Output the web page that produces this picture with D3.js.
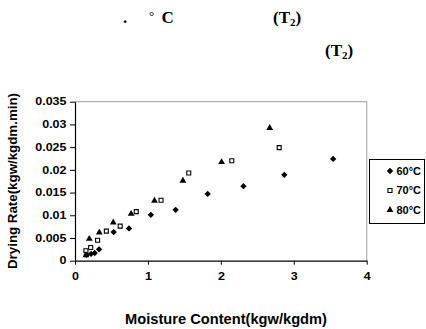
<!DOCTYPE html>
<html>
<head>
<meta charset="utf-8">
<script src="https://cdn.jsdelivr.net/npm/d3@7"></script>
<style>
  body { margin: 0; background: #fff; }
  svg { display: block; }
</style>
</head>
<body>
<div id="chart"></div>
<script>
// data
const xTicks = [0, 1, 2, 3, 4];
const yTicks = [0, 0.005, 0.01, 0.015, 0.02, 0.025, 0.03, 0.035];
const yTickLabels = ['0', '0.005', '0.01', '0.015', '0.02', '0.025', '0.03', '0.035'];
const seriesNames = ['60°C', '70°C', '80°C'];

const mc60 = [0.16, 0.22, 0.27, 0.33, 0.53, 0.74, 1.04, 1.38, 1.82, 2.31, 2.87, 3.54];
const dr60 = [0.0013, 0.0015, 0.0017, 0.0025, 0.0063, 0.0071, 0.0101, 0.0112, 0.0147, 0.0164, 0.0189, 0.0224];

const mc70 = [0.15, 0.215, 0.31, 0.43, 0.62, 0.84, 1.18, 1.56, 2.15, 2.80];
const dr70 = [0.0022, 0.0029, 0.0045, 0.0065, 0.0076, 0.0108, 0.0133, 0.0193, 0.0220, 0.0249];

const mc80 = [0.15, 0.196, 0.333, 0.525, 0.77, 1.09, 1.48, 2.01, 2.67];
const dr80 = [0.0012, 0.0048, 0.0062, 0.0084, 0.0103, 0.0132, 0.0176, 0.0217, 0.0292];

let width = 426, height = 329;
let svg = d3.select('#chart').append('svg')
  .attr('width', width)
  .attr('height', height)
  .style('background', '#fff');

// plot area
let plotLeft = 75, plotRight = 366.7, plotTop = 101.7, plotBottom = 260.7;
let x = d3.scaleLinear().domain([0, 4]).range([plotLeft, plotRight]);
let y = d3.scaleLinear().domain([0, 0.035]).range([plotBottom, plotTop]);

// title lines (the original non-latin words did not render, only these bits)
let serif = '"Liberation Serif", "Times New Roman", serif';
let t1 = svg.append('g').attr('font-family', serif).attr('font-weight', 'bold').attr('font-size', 17).attr('fill', '#000');
t1.append('text').attr('x', 123).attr('y', 23).text('.');
t1.append('text').attr('x', 149).attr('y', 20).attr('font-weight', 'normal').attr('font-size', 13).text('°');
t1.append('text').attr('x', 161.5).attr('y', 23).text('C');
let tt = t1.append('text').attr('x', 273).attr('y', 23);
tt.append('tspan').text('(T');
tt.append('tspan').attr('font-size', 11).attr('dy', 3).text('2');
tt.append('tspan').attr('dy', -3).text(')');
let tt2 = t1.append('text').attr('x', 325).attr('y', 56);
tt2.append('tspan').text('(T');
tt2.append('tspan').attr('font-size', 11).attr('dy', 3).text('2');
tt2.append('tspan').attr('dy', -3).text(')');

// grey frame on top and right
svg.append('path')
  .attr('d', `M${plotLeft},${plotTop}H${plotRight}V${plotBottom}`)
  .attr('fill', 'none')
  .attr('stroke', '#b0b0b0')
  .attr('stroke-width', 1.2);

let sans = '"Liberation Sans", Arial, sans-serif';

// axes
let yAxis = svg.append('g')
  .attr('transform', `translate(${plotLeft},0)`)
  .call(d3.axisLeft(y).tickValues(yTicks)
    .tickFormat((d, i) => yTickLabels[i])
    .tickSize(5).tickSizeOuter(0));
let xAxis = svg.append('g')
  .attr('transform', `translate(0,${plotBottom})`)
  .call(d3.axisBottom(x).tickValues(xTicks).tickFormat(d3.format('d')).tickSize(4).tickSizeOuter(0).tickPadding(8.5));

[yAxis, xAxis].forEach(g => {
  g.select('.domain').attr('stroke', '#000').attr('stroke-width', 1.2);
  g.selectAll('.tick line').attr('stroke', '#000');
  g.selectAll('.tick text')
    .attr('font-family', sans)
    .attr('font-weight', 'bold')
    .attr('font-size', 10)
    .attr('fill', '#000');
});
yAxis.selectAll('.tick text').attr('x', -8.5 / 1.25).attr('transform', 'scale(1.25,1)');
xAxis.selectAll('.tick text').attr('transform', 'scale(1.25,1)');

// axis titles
svg.append('text')
  .attr('transform', `translate(17,181) rotate(-90)`)
  .attr('text-anchor', 'middle')
  .attr('font-family', sans)
  .attr('font-weight', 'bold')
  .attr('font-size', 13)
  .attr('textLength', 176)
  .attr('lengthAdjust', 'spacingAndGlyphs')
  .text('Drying Rate(kgw/kgdm.min)');

svg.append('text')
  .attr('x', 226)
  .attr('y', 323.5)
  .attr('text-anchor', 'middle')
  .attr('font-family', sans)
  .attr('font-weight', 'bold')
  .attr('font-size', 14)
  .attr('textLength', 202)
  .attr('lengthAdjust', 'spacingAndGlyphs')
  .text('Moisture Content(kgw/kgdm)');

// markers
let diamond = d3.symbol().type(d3.symbolSquare).size(20);
let square = d3.symbol().type(d3.symbolSquare).size(16);
let triangle = d3.symbol().type(d3.symbolTriangle).size(20);

let markers = [
  { name: seriesNames[0], xs: mc60, ys: dr60, path: diamond(), rot: 45, fill: '#000', stroke: 'none' },
  { name: seriesNames[1], xs: mc70, ys: dr70, path: square(), rot: 0, fill: '#fff', stroke: '#000' },
  { name: seriesNames[2], xs: mc80, ys: dr80, path: triangle(), rot: 0, fill: '#000', stroke: 'none' }
];

markers.forEach(s => {
  svg.append('g').selectAll('path')
    .data(d3.range(s.xs.length))
    .enter().append('path')
    .attr('d', s.path)
    .attr('transform', i => `translate(${x(s.xs[i])},${y(s.ys[i])}) rotate(${s.rot})`)
    .attr('fill', s.fill)
    .attr('stroke', s.stroke)
    .attr('stroke-width', 1.1);
});

// legend
let lg = svg.append('g');
lg.append('rect')
  .attr('x', 369.5).attr('y', 159.5)
  .attr('width', 55).attr('height', 64)
  .attr('fill', '#fff')
  .attr('stroke', '#000');

markers.forEach((s, i) => {
  let yy = 171 + i * 19.5;
  lg.append('path')
    .attr('d', s.path)
    .attr('transform', `translate(390,${yy}) rotate(${s.rot})`)
    .attr('fill', s.fill)
    .attr('stroke', s.stroke)
    .attr('stroke-width', 1.1);
  lg.append('text')
    .attr('x', 396.5)
    .attr('y', yy + 3.7)
    .attr('font-family', sans)
    .attr('font-weight', 'bold')
    .attr('font-size', 10)
    .attr('textLength', 24.5)
    .attr('lengthAdjust', 'spacingAndGlyphs')
    .text(s.name);
});
</script>
</body>
</html>
